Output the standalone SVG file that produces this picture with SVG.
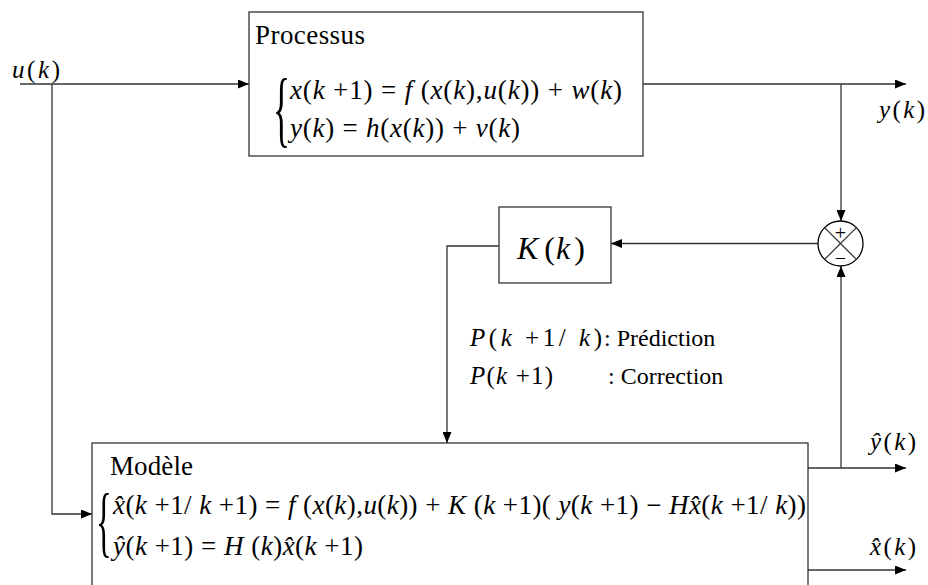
<svg xmlns="http://www.w3.org/2000/svg" width="928" height="585" viewBox="0 0 928 585">
  <style>
    .ln { stroke: #333; stroke-width: 1.3; fill: none; }
    .box { fill: #fff; stroke: #333; stroke-width: 1.3; }
    .t { font-family: 'Liberation Serif', 'Times New Roman', serif; fill: #000; }
    .i { font-style: italic; }
    .n { font-style: normal; }
  </style>
  <defs>
    <marker id="arr" markerUnits="userSpaceOnUse" markerWidth="11" markerHeight="9" refX="11" refY="4.5" orient="auto">
      <path d="M0,0 L11,4.5 L0,9 z" fill="#000"/>
    </marker>
  </defs>

  <!-- connectors -->
  <g id="connectors">
    <path class="ln" d="M20,84 H249" marker-end="url(#arr)"/>
    <path class="ln" d="M52,84 V514 H92" marker-end="url(#arr)"/>
    <path class="ln" d="M643,84 H906" marker-end="url(#arr)"/>
    <path class="ln" d="M841,84 V221" marker-end="url(#arr)"/>
    <path class="ln" d="M818,243.5 H611" marker-end="url(#arr)"/>
    <path class="ln" d="M499,246 H447 V443" marker-end="url(#arr)"/>
    <path class="ln" d="M808,468 H906" marker-end="url(#arr)"/>
    <path class="ln" d="M841,468 V266" marker-end="url(#arr)"/>
    <path class="ln" d="M808,570 H906" marker-end="url(#arr)"/>
  </g>

  <!-- signal labels -->
  <g id="labels">
    <text class="t i" x="12" y="78" font-size="25" textLength="48" lengthAdjust="spacing">u<tspan class="n">(</tspan>k<tspan class="n">)</tspan></text>
    <text class="t i" x="879" y="118" font-size="25" textLength="46" lengthAdjust="spacing">y<tspan class="n">(</tspan>k<tspan class="n">)</tspan></text>
    <text class="t i" x="870" y="450" font-size="25" textLength="46" lengthAdjust="spacing">ŷ<tspan class="n">(</tspan>k<tspan class="n">)</tspan></text>
    <text class="t i" x="870" y="555" font-size="25" textLength="46" lengthAdjust="spacing">x̂<tspan class="n">(</tspan>k<tspan class="n">)</tspan></text>
    <text class="t" x="470" y="346" font-size="25" textLength="132" lengthAdjust="spacing"><tspan class="i">P</tspan>(<tspan class="i">k</tspan> +1/ <tspan class="i">k</tspan>)</text>
    <text class="t" x="604" y="346" font-size="24">: Prédiction</text>
    <text class="t" x="470" y="384" font-size="25" textLength="83" lengthAdjust="spacing"><tspan class="i">P</tspan>(<tspan class="i">k</tspan> +1)</text>
    <text class="t" x="608" y="384" font-size="24">: Correction</text>
  </g>

  <!-- process block -->
  <g id="processus">
    <rect class="box" x="249" y="12" width="394" height="144"/>
    <text class="t" x="255" y="44" font-size="27" textLength="110" lengthAdjust="spacing">Processus</text>
    <text class="t" transform="translate(273,137) scale(0.42,1)" font-size="84">{</text>
    <text class="t" x="290" y="99" font-size="27" textLength="332" lengthAdjust="spacing"><tspan class="i">x</tspan>(<tspan class="i">k</tspan> +1) = <tspan class="i">f</tspan> (<tspan class="i">x</tspan>(<tspan class="i">k</tspan>),<tspan class="i">u</tspan>(<tspan class="i">k</tspan>)) + <tspan class="i">w</tspan>(<tspan class="i">k</tspan>)</text>
    <text class="t" x="290" y="137" font-size="27" textLength="230" lengthAdjust="spacing"><tspan class="i">y</tspan>(<tspan class="i">k</tspan>) = <tspan class="i">h</tspan>(<tspan class="i">x</tspan>(<tspan class="i">k</tspan>)) + <tspan class="i">v</tspan>(<tspan class="i">k</tspan>)</text>
  </g>

  <!-- comparator -->
  <g id="sum">
    <circle cx="840.5" cy="243.5" r="22.5" fill="#fff" stroke="#000" stroke-width="1.3"/>
    <path class="ln" d="M824.6,227.6 L856.4,259.4 M856.4,227.6 L824.6,259.4" stroke="#000"/>
    <text class="t" x="840.5" y="240" font-size="20" text-anchor="middle">+</text>
    <text class="t" x="840.5" y="265" font-size="20" text-anchor="middle">−</text>
  </g>

  <!-- gain block -->
  <g id="gain">
    <rect class="box" x="499" y="207" width="112" height="76"/>
    <text class="t" x="517" y="259" font-size="32"><tspan class="i">K</tspan><tspan dx="6">(</tspan><tspan class="i" dx="1">k</tspan><tspan dx="4">)</tspan></text>
  </g>

  <!-- model block -->
  <g id="modele">
    <rect class="box" x="92" y="443" width="716" height="160"/>
    <text class="t" x="110" y="475" font-size="27" textLength="83" lengthAdjust="spacing">Modèle</text>
    <text class="t" transform="translate(96,548) scale(0.42,1)" font-size="78">{</text>
    <text class="t" x="113" y="514" font-size="27" textLength="693" lengthAdjust="spacing"><tspan class="i">x̂</tspan>(<tspan class="i">k</tspan> +1/ <tspan class="i">k</tspan> +1) = <tspan class="i">f</tspan> (<tspan class="i">x</tspan>(<tspan class="i">k</tspan>),<tspan class="i">u</tspan>(<tspan class="i">k</tspan>)) + <tspan class="i">K</tspan> (<tspan class="i">k</tspan> +1)( <tspan class="i">y</tspan>(<tspan class="i">k</tspan> +1) − <tspan class="i">H</tspan><tspan class="i">x̂</tspan>(<tspan class="i">k</tspan> +1/ <tspan class="i">k</tspan>))</text>
    <text class="t" x="113" y="555" font-size="27" textLength="250" lengthAdjust="spacing"><tspan class="i">ŷ</tspan>(<tspan class="i">k</tspan> +1) = <tspan class="i">H</tspan> (<tspan class="i">k</tspan>)<tspan class="i">x̂</tspan>(<tspan class="i">k</tspan> +1)</text>
  </g>
</svg>
